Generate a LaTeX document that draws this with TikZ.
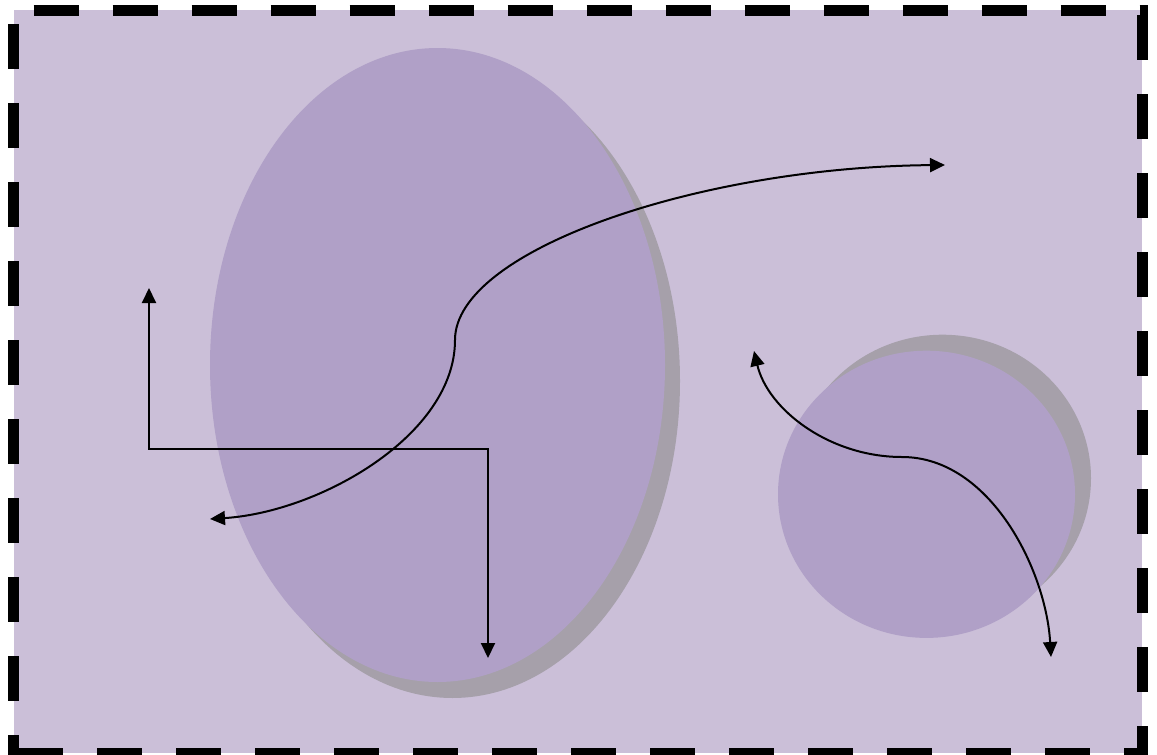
\documentclass[tikz,border=0pt]{standalone}
\usetikzlibrary{arrows.meta}
\definecolor{bgfill}{RGB}{203,191,216}
\definecolor{shapefill}{RGB}{176,160,199}
\definecolor{shadowgray}{RGB}{166,160,170}
\tikzset{
  frameline/.style={line width=11pt, black, dash pattern=on 45pt off 34pt},
  conn/.style={line width=2pt, black, {Triangle[length=15pt,width=14pt]}-{Triangle[length=15pt,width=14pt]}},
  blob/.style={fill=shapefill, draw=none},
  shade/.style={fill=shadowgray, draw=none}
}
\begin{document}
\begin{tikzpicture}[x=1pt,y=-1pt]
\useasboundingbox (0,0) rectangle (1157,755);
% background
\fill[bgfill] (13.5,10) rectangle (1142,753);
% shapes with shadows
\fill[shade] (452.5,381) ellipse [x radius=227.5, y radius=317];
\fill[blob] (437.5,365) ellipse [x radius=227.5, y radius=317];
\fill[shade] (942.5,478.3) ellipse [x radius=148.5, y radius=143.6];
\fill[blob] (926.5,494.3) ellipse [x radius=148.5, y radius=143.6];
% frame
\draw[frameline, dash phase=59.5] (13.5,4.5) -- (13.5,760.5);
\draw[frameline, dash phase=53.3] (8,10) -- (1147.5,10);
\draw[frameline, dash phase=68.5] (1142,4.5) -- (1142,760.5);
\draw[frameline, dash phase=69] (8,753) -- (1147.5,753);
% connector coordinates
\coordinate (e1) at (149,288);
\coordinate (e2) at (488,658);
\coordinate (s1) at (210,519);
\coordinate (sm) at (455,340);
\coordinate (s2) at (945,165);
\coordinate (r1) at (754,351);
\coordinate (rm) at (902,457);
\coordinate (r2) at (1051,657);
% elbow connector
\draw[conn] (e1) |- (488,449) -- (e2);
% large S curve
\draw[conn] (s1) .. controls (320,512) and (455,435) .. (sm)
  .. controls (455,250) and (700,167) .. (s2);
% small S curve
\draw[conn] (r1) .. controls (768,410) and (830,457) .. (rm)
  .. controls (990,457) and (1046,570) .. (r2);
\end{tikzpicture}
\end{document}
